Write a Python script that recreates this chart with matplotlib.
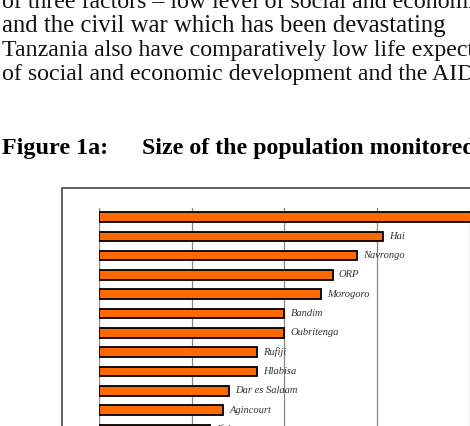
import matplotlib.pyplot as plt
from matplotlib.patches import Rectangle

# page text above the chart
body_lines = ['of three factors \u2013 low level of social and economic',
              'and the civil war which has been devastating',
              'Tanzania also have comparatively low life expectancy',
              'of social and economic development and the AIDS']
caption_num = 'Figure 1a:'
caption_txt = 'Size of the population monitored'

# sites and population size (grid step 50 000)
sites = ['Matlab', 'Hai', 'Navrongo', 'ORP', 'Morogoro', 'Bandim', 'Oubritenga',
         'Rufiji', 'Hlabisa', 'Dar es Salaam', 'Agincourt', 'Ifakara']
population = [212000, 153000, 139000, 126000, 120000, 100000, 100000,
              85000, 85000, 70000, 67000, 60000]
grid_ticks = [0, 50000, 100000, 150000, 200000, 250000]

W, H = 470, 426
fig = plt.figure(figsize=(W / 100, H / 100), dpi=100)
fig.patch.set_facecolor('white')

serif = ['Liberation Serif', 'DejaVu Serif']
for i, line in enumerate(body_lines):
    fig.text(2 / W, 1 - (8 + 24 * i) / H, line, family=serif,
             fontsize=17.8 if i == 1 else 17.2,
             color='#111111', va='baseline', ha='left')
fig.text(2 / W, 1 - 154 / H, caption_num, family=serif, fontsize=17.4,
         weight='bold', va='baseline', ha='left')
fig.text(142 / W, 1 - 154 / H, caption_txt, family=serif, fontsize=17.2,
         weight='bold', va='baseline', ha='left')

# outer frame of the chart object
fig.patches.append(Rectangle((62 / W, -0.2), 1.2, 1 - 188 / H + 0.2,
                             transform=fig.transFigure, fill=False,
                             edgecolor='#555555', lw=1.3))

# axes in pixel terms: x0 at 99px, 50000 per 92.7px; top at 208px, 19.3px per bar
step = 19.3
top_pad = 0.47
n = len(sites)
ymax = n - 0.5 + 0.8
ax_h = (ymax + top_pad) * step
ax_w = 5 * 92.7
ax = fig.add_axes([99 / W, 1 - (208 + ax_h) / H, ax_w / W, ax_h / H])
ax.set_facecolor('none')

ypos = list(range(n))
ax.barh(ypos, population, height=0.5, color='#ff6a00', edgecolor='black',
        lw=1.3, zorder=3)
for y, v, s in zip(ypos, population, sites):
    if y == 0:
        continue
    ax.text(v + 3300, y, s, family=serif, style='italic', fontsize=7.6,
            color='#333333', va='center', ha='left', zorder=4)

ax.set_xlim(0, 250000)
ax.set_ylim(ymax, -top_pad)
ax.set_xticks(grid_ticks)
ax.set_yticks([])
ax.xaxis.grid(True, color='#888888', lw=0.9, zorder=0)
ax.tick_params(axis='x', length=0, labelbottom=False)
for sp in ax.spines.values():
    sp.set_visible(False)

fig.savefig('out.png', dpi=100)
